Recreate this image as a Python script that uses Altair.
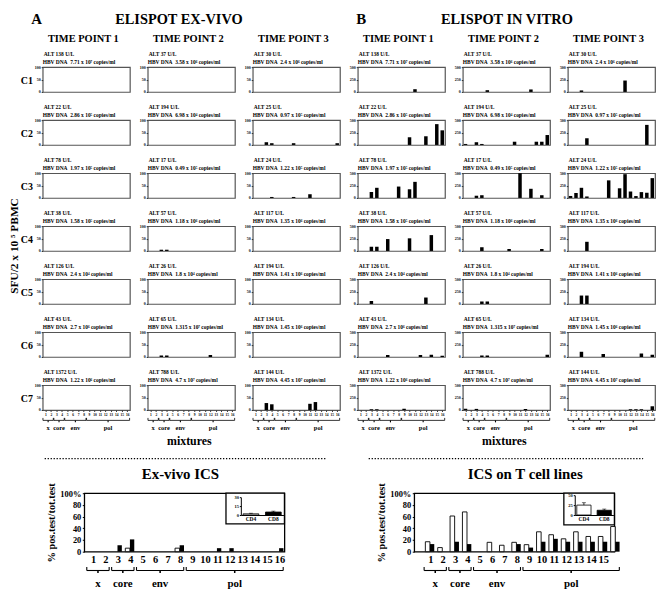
import altair as alt
import pandas as pd

SERIF = "Liberation Serif"

MIXTURES = list(range(1, 17))
TIME_POINTS = ["TIME POINT 1", "TIME POINT 2", "TIME POINT 3"]
PATIENTS = ["C1", "C2", "C3", "C4", "C5", "C6", "C7"]
PANEL_TITLES = {"A": "ELISPOT EX-VIVO", "B": "ELISPOT IN VITRO"}

ALT_UL = [
    ["138", "37", "30"],
    ["22", "194", "25"],
    ["78", "17", "24"],
    ["38", "57", "117"],
    ["126", "26", "194"],
    ["43", "65", "134"],
    ["1372", "788", "144"],
]
HBV_DNA = [
    ["7.71 x 10\u2077", "3.58 x 10\u2076", "2.4 x 10\u2076"],
    ["2.86 x 10\u2075", "6.98 x 10\u2074", "0.97 x 10\u2075"],
    ["1.97 x 10\u2075", "0.49 x 10\u2075", "1.22 x 10\u2075"],
    ["1.58 x 10\u2075", "1.18 x 10\u2076", "1.35 x 10\u2076"],
    ["2.4 x 10\u2074", "1.8 x 10\u2074", "1.41 x 10\u2076"],
    ["2.7 x 10\u2076", "1.315 x 10\u2077", "1.45 x 10\u2076"],
    ["1.22 x 10\u2076", "4.7 x 10\u2077", "4.45 x 10\u2077"],
]

# ELISPOT ex vivo, SFU/2x10^5 PBMC: {mixture: value} for time points 1..3
EXVIVO_C1 = [{}, {}, {}]
EXVIVO_C2 = [{}, {}, {3: 11, 4: 7, 8: 7, 16: 7}]
EXVIVO_C3 = [{}, {}, {4: 4, 8: 4, 11: 15}]
EXVIVO_C4 = [{}, {3: 5, 4: 5}, {}]
EXVIVO_C5 = [{}, {}, {}]
EXVIVO_C6 = [{}, {3: 6, 4: 6, 12: 8}, {}]
EXVIVO_C7 = [{}, {}, {3: 28, 4: 23, 11: 25, 12: 32}]

# ELISPOT in vitro
INVITRO_C1 = [{11: 55}, {5: 35, 13: 50}, {3: 30, 11: 230}]
INVITRO_C2 = [{10: 155, 13: 175, 15: 420, 16: 295},
              {1: 20, 3: 55, 4: 20, 10: 65, 14: 65, 15: 65, 16: 200},
              {4: 135, 15: 405}]
INVITRO_C3 = [{3: 120, 4: 205, 8: 230, 10: 175, 11: 325},
              {3: 45, 4: 55, 11: 500, 13: 185, 15: 55},
              {1: 40, 2: 100, 3: 205, 4: 30, 8: 355, 10: 195, 11: 480,
               12: 130, 13: 38, 14: 118, 15: 105, 16: 400}]
INVITRO_C4 = [{3: 85, 4: 85, 6: 240, 10: 255, 14: 320}, {4: 75, 9: 40, 15: 40}, {4: 185}]
INVITRO_C5 = [{3: 60, 13: 130}, {4: 50, 5: 50}, {3: 170, 4: 170}]
INVITRO_C6 = [{6: 40, 12: 40, 14: 45, 16: 25}, {4: 30, 5: 30, 16: 45}, {3: 105, 7: 60, 14: 70, 16: 45}]
INVITRO_C7 = [{3: 15, 4: 15, 9: 25}, {1: 25, 3: 22, 12: 20}, {12: 15, 13: 15, 14: 15, 16: 75}]

EXVIVO = [EXVIVO_C1, EXVIVO_C2, EXVIVO_C3, EXVIVO_C4, EXVIVO_C5, EXVIVO_C6, EXVIVO_C7]
INVITRO = [INVITRO_C1, INVITRO_C2, INVITRO_C3, INVITRO_C4, INVITRO_C5, INVITRO_C6, INVITRO_C7]

GROUP_NAMES = ["x", "core", "env", "pol"]
GROUP_FIRST = [1, 3, 5, 9]
GROUP_LAST = [2, 4, 8, 16]

# ICS, % positive tests / total tests
EXVIVO_ICS_CD4 = [0, 0, 0, 6, 0, 0, 0, 6, 0, 0, 0, 0, 0, 0, 0, 0]
EXVIVO_ICS_CD8 = [0, 0, 11, 21, 0, 0, 0, 11, 0, 0, 6, 6, 0, 0, 0, 6]
TCELL_ICS_CD4 = [17, 7, 61, 68, 0, 16, 11, 16, 12, 34, 29, 22, 34, 26, 26, 43]
TCELL_ICS_CD8 = [13, 0, 17, 13, 0, 0, 0, 13, 7, 17, 22, 17, 17, 17, 17, 17]
INSET_CELLS = ["CD4", "CD8"]
EXVIVO_INSET = [2, 5]
EXVIVO_INSET_ERR = [1, 1.5]
TCELL_INSET = [25, 12]
TCELL_INSET_ERR = [6, 3]

W, H = 88, 25
COL_GAP, ROW_GAP = 18, 28.5
BW, BH = 202, 59
FRAME = "#555"


def text_layer(label, x, y, size, align="left", baseline="alphabetic", angle=0):
    props = dict(font=SERIF, fontWeight="bold", fontSize=size, align=align,
                 baseline=baseline, color="black")
    if angle:
        props["angle"] = angle
    return alt.Chart(pd.DataFrame({"t": [label]})).mark_text(**props).encode(
        text="t:N", x=alt.value(x), y=alt.value(y))


def bracket_layers(xs, xax, base_y, up, down, label_y, label_size, lo_pad, hi_pad, width):
    gdf = pd.DataFrame({"g": GROUP_NAMES, "s": GROUP_FIRST, "e": GROUP_LAST})
    g = alt.Chart(gdf).transform_calculate(
        a=f"datum.s - {lo_pad}", b=f"datum.e + {hi_pad}", c="(datum.a + datum.b) / 2")

    def X(f):
        return alt.X(f"{f}:Q", scale=xs, axis=xax, title=None)

    line = g.mark_rule(color="black", strokeWidth=width).encode(
        x=X("a"), x2="b:Q", y=alt.value(base_y))
    left = g.mark_rule(color="black", strokeWidth=width).encode(
        x=X("a"), y=alt.value(base_y - up), y2=alt.value(base_y))
    right = g.mark_rule(color="black", strokeWidth=width).encode(
        x=X("b"), y=alt.value(base_y - up), y2=alt.value(base_y))
    mid = g.mark_rule(color="black", strokeWidth=width * 1.4).encode(
        x=X("c"), y=alt.value(base_y), y2=alt.value(base_y + down))
    labels = g.mark_text(font=SERIF, fontWeight="bold", fontSize=label_size,
                         color="black").encode(x=X("c"), y=alt.value(label_y), text="g:N")
    return [line, left, right, mid, labels]


def elispot_cell(panel, r, t, values):
    ymax = 100 if panel == "A" else 500
    last = r == len(PATIENTS) - 1
    xs = alt.Scale(domain=[0.5, 16.5], nice=False, zero=False)
    if last:
        xax = alt.Axis(values=MIXTURES, format="d", labelFont=SERIF, labelFontWeight="bold",
                       labelFontSize=3.6, labelColor="black", tickSize=1.5, tickColor="#333",
                       labelPadding=0.8, domain=False, grid=False, labelFlush=False,
                       labelOverlap=False)
    else:
        xax = None
    yax = alt.Axis(values=[0, ymax // 2, ymax], format="d", labelFont=SERIF,
                   labelFontWeight="bold", labelFontSize=4, labelColor="black",
                   tickSize=1.5, tickColor="#333", labelPadding=1, domain=False, grid=False)
    df = pd.DataFrame({"m": MIXTURES, "v": [values.get(m, 0) for m in MIXTURES]})
    bars = (alt.Chart(df).transform_filter("datum.v > 0")
            .transform_calculate(lo="datum.m - 0.32", hi="datum.m + 0.32")
            .mark_bar(color="black")
            .encode(x=alt.X("lo:Q", scale=xs, axis=xax, title=None), x2="hi:Q",
                    y=alt.Y("v:Q", scale=alt.Scale(domain=[0, ymax], nice=False),
                            axis=yax, title=None),
                    y2=alt.datum(0)))
    layers = [bars,
              text_layer(f"ALT {ALT_UL[r][t]} U/L", 1, -11.3, 5.5),
              text_layer(f"HBV DNA\u00a0 {HBV_DNA[r][t]} copies/ml", 0, -2.8, 5.5)]
    if r == 0:
        layers.append(text_layer(TIME_POINTS[t], W / 2 - 3, -25, 10.5, align="center"))
        if t == 0:
            layers.append(text_layer(panel, -6 if panel == "A" else 3.5, -43.5, 15, align="center"))
        if t == 1:
            layers.append(text_layer(PANEL_TITLES[panel], 31.5 if panel == "A" else 44.5,
                                     -43.5, 14.5, align="center"))
    if panel == "A" and t == 0:
        layers.append(text_layer(PATIENTS[r], -16, H / 2 + 1.5, 10, align="center",
                                 baseline="middle"))
        if r == 3:
            layers.append(text_layer("SFU/2 x 10 \u2075 PBMC", -27.5, H / 2 + 7.5, 11.5,
                                     align="center", baseline="middle", angle=270))
    if last:
        layers += bracket_layers(xs, xax, H + 10.5, 2.5, 2, H + 18.5, 6.5, 0.45, 0.45, 0.8)
        if t == 1:
            layers.append(text_layer("mixtures", W / 2 - 2, H + 35, 12, align="center"))
        if t == 0:
            x0, x1 = (2, 287) if panel == "A" else (11, 288)
            layers.append(
                alt.Chart(pd.DataFrame({"k": [0]}))
                .mark_rule(color="black", strokeWidth=1.3, strokeDash=[1.3, 1.7])
                .encode(x=alt.value(x0), x2=alt.value(x1), y=alt.value(H + 49)))
    return alt.layer(*layers).properties(
        width=W, height=H, view=alt.ViewBackground(stroke=FRAME, strokeWidth=1.2))


def ics_chart(title, title_dx, cd4, cd8, x_domain, ins_vals, ins_err, ins_max, ins_ticks,
              box_x, box_h, axis_x, ins_top):
    ins_bottom = 22
    df = pd.DataFrame({"m": MIXTURES, "cd4": cd4, "cd8": cd8})
    xs = alt.Scale(domain=x_domain, nice=False, zero=False)
    ys = alt.Scale(domain=[0, 100], nice=False)
    xax = alt.Axis(values=MIXTURES, format="d", labelFont=SERIF, labelFontWeight="bold",
                   labelFontSize=10.5, labelColor="black", ticks=False, domain=False,
                   grid=False, labelPadding=2.5, labelFlush=False, labelOverlap=False)
    yax = alt.Axis(values=[0, 20, 40, 60, 80, 100],
                   labelExpr="datum.value == 100 ? '100%' : datum.label",
                   labelFont=SERIF, labelFontWeight="bold", labelFontSize=8.5,
                   labelColor="black", tickSize=2, tickColor="black", domain=False,
                   grid=False, labelPadding=1.5, title="% pos.test/tot.test",
                   titleFont=SERIF, titleFontWeight="bold", titleFontSize=10.5,
                   titleColor="black", titlePadding=3)
    base = alt.Chart(df)
    white = (base.transform_filter("datum.cd4 > 0")
             .transform_calculate(lo="datum.m - 0.4", hi="datum.m - 0.03")
             .mark_bar(fill="white", stroke="black", strokeWidth=0.9)
             .encode(x=alt.X("lo:Q", scale=xs, axis=xax, title=None), x2="hi:Q",
                     y=alt.Y("cd4:Q", scale=ys, axis=yax), y2=alt.datum(0)))
    black = (base.transform_filter("datum.cd8 > 0")
             .transform_calculate(lo="datum.m - 0.03", hi="datum.m + 0.32")
             .mark_bar(color="black")
             .encode(x=alt.X("lo:Q", scale=xs, axis=xax, title=None), x2="hi:Q",
                     y=alt.Y("cd8:Q", scale=ys, axis=yax), y2=alt.datum(0)))
    box = (alt.Chart(pd.DataFrame({"k": [0]}))
           .mark_rect(fill="white", stroke="black", strokeWidth=1.3)
           .encode(x=alt.value(box_x), x2=alt.value(BW), y=alt.value(0), y2=alt.value(box_h)))
    main = alt.layer(white, black,
                     *bracket_layers(xs, xax, BH + 19, 3.5, 2.5, BH + 33, 11, 0.5, 0.3, 1.1),
                     box)

    idf = pd.DataFrame({"cell": INSET_CELLS, "v": ins_vals, "err": ins_err})
    ixs = alt.Scale(domain=INSET_CELLS, range=[axis_x, BW - 1], paddingInner=0.3,
                    paddingOuter=0.1)
    iys = alt.Scale(domain=[0, ins_max], range=[ins_bottom, ins_top], nice=False)
    ixax = alt.Axis(orient="bottom", offset=-(BH - ins_bottom), labelFont=SERIF,
                    labelFontWeight="bold", labelFontSize=5.5, labelColor="black",
                    labelAngle=0, ticks=False, domain=True, domainColor="black",
                    domainWidth=1, labelPadding=1.5, grid=False, zindex=2)
    iyax = alt.Axis(orient="left", offset=-axis_x, values=ins_ticks, format="d",
                    labelFont=SERIF, labelFontWeight="bold", labelFontSize=4.5,
                    labelColor="black", tickSize=1.5, tickColor="black", domain=True,
                    domainColor="black", domainWidth=1, labelPadding=1, grid=False,
                    zindex=2)
    ib = alt.Chart(idf).transform_calculate(top="datum.v + datum.err")
    ix = alt.X("cell:N", scale=ixs, axis=ixax, title=None)
    ibars = ib.mark_bar(stroke="black", strokeWidth=0.8).encode(
        x=ix, y=alt.Y("v:Q", scale=iys, axis=iyax, title=None), y2=alt.datum(0),
        fill=alt.Fill("cell:N", scale=alt.Scale(domain=INSET_CELLS, range=["white", "black"]),
                      legend=None))
    ierr = ib.mark_rule(color="black", strokeWidth=0.8).encode(
        x=ix, y=alt.Y("v:Q", scale=iys, axis=iyax, title=None), y2="top:Q")
    icap = ib.mark_tick(color="black", thickness=0.8, size=4).encode(
        x=ix, y=alt.Y("top:Q", scale=iys, axis=iyax, title=None))
    inset = alt.layer(ibars, ierr, icap)

    return (alt.layer(main, inset)
            .resolve_scale(x="independent", y="independent")
            .properties(width=BW, height=BH,
                        title=alt.TitleParams(title, font=SERIF, fontWeight="bold",
                                              fontSize=15, color="black", offset=0.5,
                                              anchor="middle", frame="group", dx=title_dx),
                        view=alt.ViewBackground(stroke="black", strokeWidth=1.3)))


def spacer(w):
    return (alt.Chart(pd.DataFrame({"k": [0]})).mark_text(text="")
            .encode(x=alt.value(0), y=alt.value(0))
            .properties(width=w, height=1, view=alt.ViewBackground(stroke="transparent")))


cells = []
for r in range(len(PATIENTS)):
    for panel, data in (("A", EXVIVO), ("B", INVITRO)):
        for t in range(3):
            cells.append(elispot_cell(panel, r, t, data[r][t]))

top = alt.concat(*cells, columns=6, spacing={"row": ROW_GAP, "column": COL_GAP},
                 bounds="flush")

ics_a = ics_chart("Ex-vivo ICS", -4, EXVIVO_ICS_CD4, EXVIVO_ICS_CD8, [0.3, 16.4],
                  EXVIVO_INSET, EXVIVO_INSET_ERR, 30, [0, 15, 30], 143, 31, 158, 4)
ics_b = ics_chart("ICS on T cell lines", 11, TCELL_ICS_CD4, TCELL_ICS_CD8, [-0.3, 15.9],
                  TCELL_INSET, TCELL_INSET_ERR, 50, [0, 25, 50], 151, 32, 162, 2)

bottom = alt.hconcat(spacer(42), ics_a, spacer(131), ics_b, spacing=0, bounds="flush")

chart = (alt.vconcat(top, bottom, spacing=6)
         .properties(padding=0)
         .configure(background="white"))

chart.save("out.html", embed_options={"renderer": "svg", "actions": False})
